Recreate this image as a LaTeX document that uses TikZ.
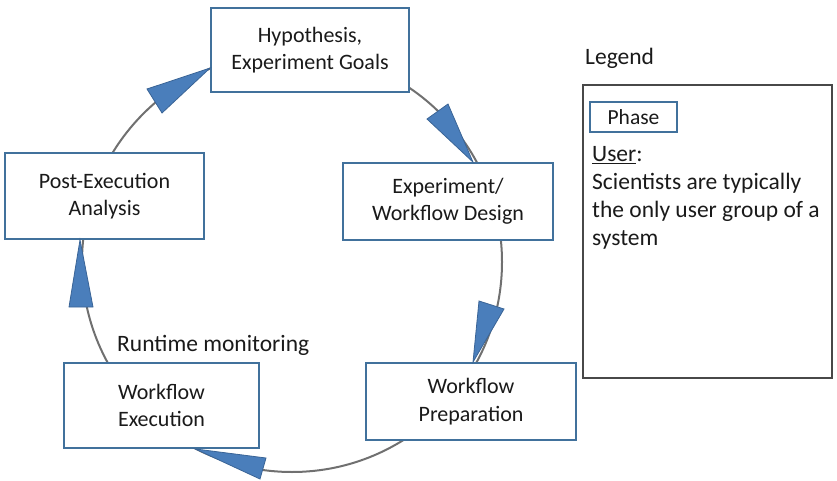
\documentclass[tikz,border=0pt]{standalone}
\usepackage{fontspec}
\setmainfont{Carlito}
\definecolor{boxblue}{HTML}{41719C}
\definecolor{tribluefill}{HTML}{4A7EBB}
\definecolor{triblueline}{HTML}{3A6496}
\definecolor{arcgray}{HTML}{707070}
\definecolor{txt}{HTML}{1A1A1A}
\begin{document}
\begin{tikzpicture}[x=1pt,y=-1pt,
  phasebox/.style={draw=boxblue,line width=1.8pt,fill=white,align=center,inner sep=0pt,
    text=txt,font=\fontsize{22}{27.5}\selectfont},
  headtri/.style={fill=tribluefill,draw=triblueline,line width=0.8pt,line join=miter},
  arcline/.style={draw=arcgray,line width=2pt},
  plain/.style={text=txt,font=\fontsize{23.5}{28}\selectfont,inner sep=0pt}]
\useasboundingbox (0,0) rectangle (837,481);
% cycle connector (circle behind the phase boxes)
\coordinate (ctr) at (292,262);
\draw[arcline] (ctr) circle[radius=210];
% phase boxes
\node[phasebox,minimum width=198pt,minimum height=84pt] (hyp) at (310,50) {Hypothesis,\\Experiment Goals};
\node[phasebox,minimum width=210pt,minimum height=77pt] (exp) at (448,201.5) {Experiment/\\Workflow Design};
\node[phasebox,minimum width=210pt,minimum height=77pt] (prep) at (471,401.5) {Workflow\\Preparation};
\node[phasebox,minimum width=195pt,minimum height=85pt] (exe) at (161.5,405.5) {Workflow\\Execution};
\node[phasebox,minimum width=199pt,minimum height=86pt] (post) at (104.5,196) {Post-Execution\\Analysis};
% arrow heads
\draw[headtri] (147,89) -- (162,113) -- (hyp.west |- 0,68) -- cycle;
\draw[headtri] (427,119) -- (448,104) -- (473,0 |- exp.north) -- cycle;
\draw[headtri] (479,301) -- (504,309) -- (473,0 |- prep.north) -- cycle;
\draw[headtri] (266,458) -- (260,479) -- (195,0 |- exe.south) -- cycle;
\draw[headtri] (69,307) -- (93,307) -- (80,0 |- post.south) -- cycle;
% label
\node[plain,anchor=west] (rt) at (117,345) {Runtime monitoring};
% legend
\node[plain,anchor=west] (legtitle) at (585,58) {Legend};
\node[draw=txt!80,line width=1.2pt,minimum width=249pt,minimum height=293pt,inner sep=0pt] (legbox) at (707.5,231.5) {};
\node[phasebox,line width=1.5pt,minimum width=87pt,minimum height=30pt,font=\fontsize{21.5}{24}\selectfont] (legphase) at (633.5,117) {Phase};
\node[plain,anchor=north west,align=left] (legtext) at (592,146) {\underline{User}:\\Scientists are typically\\the only user group of a\\system};
\end{tikzpicture}
\end{document}
